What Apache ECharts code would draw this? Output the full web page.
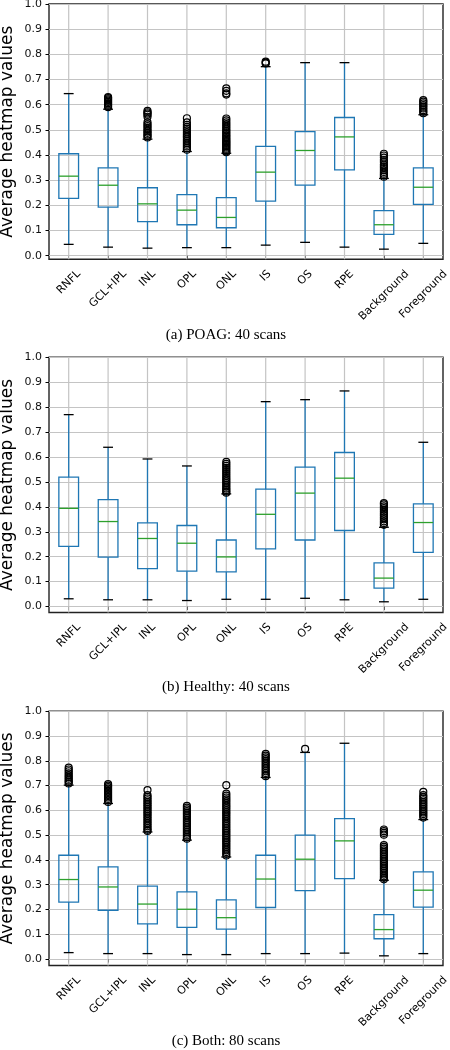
<!DOCTYPE html>
<html><head><meta charset="utf-8">
<script src="https://cdn.jsdelivr.net/npm/echarts@6/dist/echarts.min.js"></script>
<style>html,body{margin:0;padding:0;background:#fff}#c{width:450px;height:1050px}</style>
</head><body><div id="c"></div>
<script>
// ---------- data ----------
const categories = ['RNFL','GCL+IPL','INL','OPL','ONL','IS','OS','RPE','Background','Foreground'];
const yTicks = [0,0.1,0.2,0.3,0.4,0.5,0.6,0.7,0.8,0.9,1.0];
const panelTitles = ['(a) POAG: 40 scans','(b) Healthy: 40 scans','(c) Both: 80 scans'];

// [lower whisker, Q1, median, Q3, upper whisker]
const poagStats = [
  [0.045,0.228,0.316,0.405,0.644],
  [0.034,0.193,0.280,0.349,0.582],
  [0.030,0.135,0.206,0.270,0.463],
  [0.032,0.123,0.181,0.243,0.414],
  [0.032,0.111,0.152,0.231,0.407],
  [0.042,0.217,0.332,0.434,0.751],
  [0.053,0.280,0.418,0.493,0.767],
  [0.034,0.341,0.472,0.549,0.767],
  [0.026,0.085,0.123,0.179,0.307],
  [0.049,0.204,0.272,0.349,0.560]
];
const poagOutliers = [
  [],
  [0.590,0.596,0.601,0.606,0.611,0.616,0.621,0.626,0.630],
  [0.575,0.570,0.565,0.560,0.552,0.530,0.522,0.515,0.508,0.500,0.494,0.488,0.482,0.476,0.470],
  [0.546,0.530,0.520,0.512,0.505,0.498,0.490,0.483,0.476,0.470,0.462,0.455,0.448,0.441,0.434,0.427,0.421],
  [0.665,0.655,0.645,0.640,0.545,0.538,0.530,0.523,0.516,0.509,0.502,0.496,0.490,0.484,0.478,0.472,0.466,0.460,0.455,0.450,0.445,0.440,0.435,0.430,0.425,0.420,0.415,0.411],
  [0.771,0.767,0.764],
  [],
  [],
  [0.405,0.398,0.390,0.380,0.372,0.362,0.355,0.348,0.340,0.333,0.326,0.320,0.314],
  [0.618,0.612,0.605,0.598,0.592,0.585,0.578,0.572,0.566]
];

const healthyStats = [
  [0.031,0.241,0.394,0.519,0.770],
  [0.027,0.198,0.341,0.429,0.639],
  [0.027,0.152,0.273,0.336,0.592],
  [0.024,0.142,0.254,0.325,0.564],
  [0.029,0.139,0.199,0.267,0.452],
  [0.029,0.231,0.370,0.471,0.822],
  [0.033,0.267,0.455,0.559,0.830],
  [0.027,0.305,0.515,0.618,0.865],
  [0.019,0.074,0.114,0.175,0.318],
  [0.029,0.217,0.337,0.412,0.659]
];
const healthyOutliers = [
  [],[],[],[],
  [0.580,0.572,0.564,0.556,0.548,0.540,0.532,0.524,0.516,0.509,0.502,0.495,0.488,0.481,0.474,0.468,0.462,0.457],
  [],[],[],
  [0.415,0.410,0.402,0.395,0.388,0.380,0.372,0.365,0.357,0.350,0.342,0.335,0.328],
  []
];

const bothStats = [
  [0.026,0.230,0.321,0.419,0.702],
  [0.022,0.197,0.291,0.372,0.628],
  [0.022,0.142,0.222,0.294,0.513],
  [0.018,0.128,0.201,0.271,0.480],
  [0.018,0.121,0.167,0.239,0.412],
  [0.022,0.208,0.323,0.419,0.733],
  [0.022,0.276,0.403,0.500,0.834],
  [0.024,0.325,0.477,0.567,0.871],
  [0.013,0.082,0.119,0.179,0.318],
  [0.022,0.210,0.278,0.352,0.563]
];
const bothOutliers = [
  [0.773,0.765,0.758,0.750,0.742,0.735,0.728,0.721,0.715,0.709],
  [0.706,0.700,0.694,0.688,0.682,0.676,0.670,0.664,0.658,0.652,0.646,0.640,0.634],
  [0.682,0.662,0.655,0.648,0.641,0.634,0.627,0.620,0.613,0.606,0.599,0.592,0.585,0.578,0.571,0.564,0.557,0.550,0.543,0.536,0.529,0.522,0.517],
  [0.618,0.611,0.604,0.597,0.590,0.583,0.576,0.569,0.562,0.555,0.548,0.541,0.534,0.527,0.520,0.513,0.506,0.499,0.492,0.486],
  [0.702,0.668,0.660,0.652,0.645,0.638,0.630,0.622,0.615,0.608,0.600,0.593,0.586,0.579,0.572,0.565,0.558,0.551,0.544,0.537,0.530,0.523,0.516,0.509,0.502,0.495,0.488,0.481,0.474,0.467,0.460,0.453,0.446,0.439,0.432,0.425,0.418],
  [0.828,0.821,0.814,0.807,0.800,0.793,0.786,0.779,0.772,0.765,0.758,0.751,0.744,0.738],
  [0.848],
  [],
  [0.523,0.516,0.509,0.502,0.460,0.453,0.446,0.439,0.432,0.425,0.418,0.411,0.404,0.397,0.390,0.383,0.376,0.369,0.362,0.355,0.348,0.341,0.334,0.328,0.322],
  [0.675,0.662,0.655,0.648,0.641,0.634,0.627,0.620,0.613,0.606,0.599,0.592,0.585,0.578,0.571]
];

const panelStats = [poagStats, healthyStats, bothStats];
const panelOutliers = [poagOutliers, healthyOutliers, bothOutliers];

// ---------- layout / style ----------
const grids = [
  {top: 4, height: 255.3, yMin: -0.0143, titleY: 335},
  {top: 357.3, height: 255.2, yMin: -0.024, titleY: 687.5},
  {top: 711.3, height: 254.2, yMin: -0.026, titleY: 1041.5}
];
const BLUE = '#1f77b4', GREEN = '#2ca02c', GRIDC = '#c4c4c4';
const FONT = '11px "DejaVu Sans"';
const measureCtx = document.createElement('canvas').getContext('2d');
measureCtx.font = FONT;
const C45 = Math.SQRT1_2;

function boxItem(params, api) {
  const i = api.value(0);
  const bw = api.size([1, 0])[0] * 0.5;
  const x = api.coord([i, 0])[0];
  const yLo = api.coord([i, api.value(1)])[1];
  const yQ1 = api.coord([i, api.value(2)])[1];
  const yMed = api.coord([i, api.value(3)])[1];
  const yQ3 = api.coord([i, api.value(4)])[1];
  const yHi = api.coord([i, api.value(5)])[1];
  const ln = (x1, y1, x2, y2, c) => ({type: 'line', shape: {x1, y1, x2, y2}, style: {stroke: c, lineWidth: 1.3}});
  return {type: 'group', children: [
    ln(x, yQ3, x, yHi, BLUE),
    ln(x, yQ1, x, yLo, BLUE),
    {type: 'rect', shape: {x: x - bw / 2, y: yQ3, width: bw, height: yQ1 - yQ3}, style: {fill: 'none', stroke: BLUE, lineWidth: 1.3}},
    ln(x - bw / 2, yMed, x + bw / 2, yMed, GREEN),
    ln(x - bw / 4, yHi, x + bw / 4, yHi, '#000'),
    ln(x - bw / 4, yLo, x + bw / 4, yLo, '#000')
  ]};
}
function vGridItem(params, api) {
  const i = api.value(0);
  const p0 = api.coord([i, api.value(1)]);
  const p1 = api.coord([i, 1]);
  return {type: 'line', shape: {x1: p0[0], y1: p0[1], x2: p1[0], y2: p1[1]}, style: {stroke: GRIDC, lineWidth: 1.2}};
}
function labelItem(params, api) {
  const i = api.value(0);
  const p = api.coord([i, api.value(1)]);
  const text = categories[i];
  const w = measureCtx.measureText(text).width;
  return {type: 'text', x: p[0] + w * C45 / 2, y: p[1] + 9 + 5.5 * C45, rotation: Math.PI / 4,
    style: {text, font: FONT, fill: '#000', align: 'right', verticalAlign: 'middle'}};
}

const option = {
  animation: false,
  backgroundColor: '#fff',
  grid: grids.map(g => ({left: 49, width: 394, top: g.top, height: g.height, outerBoundsMode: 'none', containLabel: false,
    show: true, borderColor: '#222', borderWidth: 1.4, backgroundColor: 'transparent'})),
  xAxis: grids.map((g, p) => ({
    gridIndex: p, type: 'category', data: categories, boundaryGap: true,
    axisLine: {show: false},
    axisTick: {show: true, alignWithLabel: true, interval: 0, length: 3.5, lineStyle: {color: '#000'}},
    axisLabel: {show: false, interval: 0},
    splitLine: {show: false}
  })),
  yAxis: grids.map((g, p) => ({
    gridIndex: p, type: 'value', min: g.yMin, max: 1,
    axisLine: {show: false},
    axisTick: {show: true, length: 3.5, lineStyle: {color: '#000'}, customValues: yTicks},
    axisLabel: {customValues: yTicks, formatter: v => v.toFixed(1), fontSize: 11, fontFamily: 'DejaVu Sans', color: '#111', margin: 7},
    splitLine: {show: true, lineStyle: {color: GRIDC, width: 1.2}},
    name: 'Average heatmap values', nameLocation: 'middle', nameGap: 33, nameMoveOverlap: false,
    nameTextStyle: {fontSize: 17, fontFamily: 'DejaVu Sans', color: '#000'}
  })),
  graphic: grids.map((g, p) => ({type: 'text', x: 226, y: g.titleY,
    style: {text: panelTitles[p], font: '15px "Liberation Serif"', fill: '#000', align: 'center', verticalAlign: 'middle'}})),
  series: []
};

grids.forEach((g, p) => {
  option.series.push({type: 'custom', xAxisIndex: p, yAxisIndex: p, z: 1, silent: true,
    renderItem: vGridItem, data: categories.map((c, i) => [i, g.yMin])});
  option.series.push({type: 'custom', xAxisIndex: p, yAxisIndex: p, z: 3, silent: true,
    renderItem: boxItem, data: panelStats[p].map((s, i) => [i, ...s])});
  const pts = [];
  panelOutliers[p].forEach((arr, i) => arr.forEach(v => pts.push([i, v])));
  option.series.push({type: 'scatter', xAxisIndex: p, yAxisIndex: p, z: 4, silent: true,
    symbol: 'circle', symbolSize: 7,
    itemStyle: {color: 'rgba(0,0,0,0)', borderColor: '#000', borderWidth: 1.2, opacity: 1},
    data: pts});
  option.series.push({type: 'custom', xAxisIndex: p, yAxisIndex: p, z: 5, silent: true, clip: false,
    renderItem: labelItem, data: categories.map((c, i) => [i, g.yMin])});
});

const chart = echarts.init(document.getElementById('c'), null, {renderer: 'canvas'});
chart.setOption(option);
</script>
</body></html>
